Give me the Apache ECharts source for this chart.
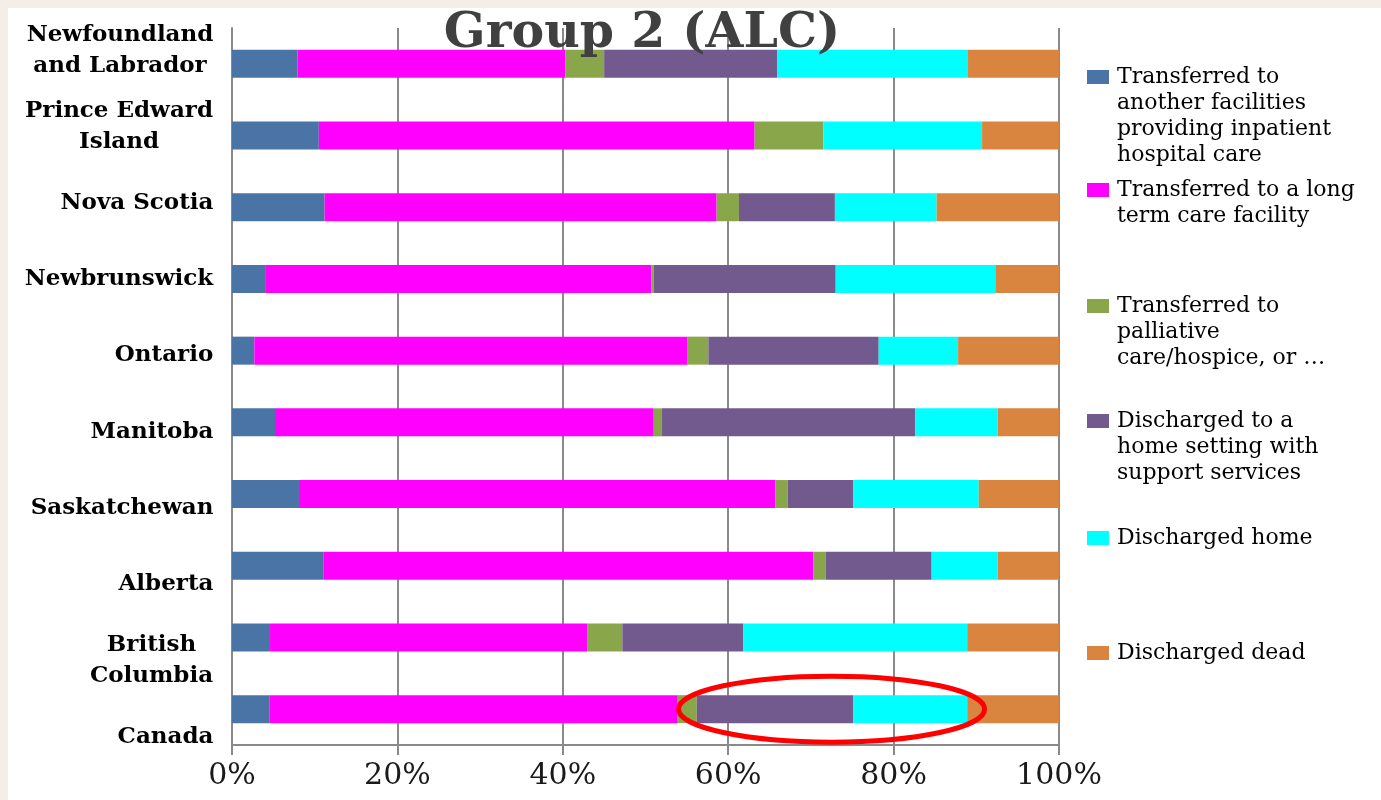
<!DOCTYPE html>
<html>
<head>
<meta charset="utf-8">
<title>Group 2 (ALC)</title>
<script src="https://cdn.jsdelivr.net/npm/echarts@6/dist/echarts.min.js"></script>
<style>
  html, body { margin: 0; padding: 0; background: #f3efe6; }
  #main { position: absolute; left: 8px; top: 8px; width: 1373px; height: 792px; background: #fff; }
</style>
</head>
<body>
<div id="main"></div>
<script>
// categories, top to bottom
var provinces = ['Newfoundland\nand Labrador', 'Prince Edward\nIsland', 'Nova Scotia', 'Newbrunswick', 'Ontario',
  'Manitoba', 'Saskatchewan', 'Alberta', 'British\nColumbia', 'Canada'];

var seriesNames = [
  'Transferred to another facilities providing inpatient hospital care',
  'Transferred to a long term care facility',
  'Transferred to palliative care/hospice, or \u2026',
  'Discharged to a home setting with support services',
  'Discharged home',
  'Discharged dead'
];
// legend text as it wraps in the picture
var legendLines = [
  ['Transferred to', 'another facilities', 'providing inpatient', 'hospital care'],
  ['Transferred to a long', 'term care facility'],
  ['Transferred to', 'palliative', 'care/hospice, or \u2026'],
  ['Discharged to a', 'home setting with', 'support services'],
  ['Discharged home'],
  ['Discharged dead']
];
var colors = ['#4a74a6', '#ff00ff', '#8aa64b', '#72598e', '#00ffff', '#d9843f'];

// percentages per province (same order as provinces)
var otherFacility = [7.9, 10.5, 11.2, 4.1, 2.7, 5.2, 8.1, 11.1, 4.6, 4.5];
var longTermCare  = [32.4, 52.7, 47.4, 46.6, 52.4, 45.8, 57.6, 59.2, 38.4, 49.4];
var palliative    = [4.7, 8.3, 2.7, 0.3, 2.5, 1.0, 1.5, 1.5, 4.2, 2.3];
var homeSupport   = [20.9, 0, 11.6, 22.0, 20.6, 30.6, 7.9, 12.8, 14.6, 18.9];
var home          = [23.1, 19.2, 12.3, 19.3, 9.6, 10.0, 15.2, 8.0, 27.1, 13.8];
var dead          = [11.0, 9.3, 14.8, 7.7, 12.2, 7.4, 9.7, 7.4, 11.1, 11.1];
var seriesData = [otherFacility, longTermCare, palliative, homeSupport, home, dead];

// red circled part of the Canada bar (percent range)
var circleFrom = 54;
var circleTo = 91;
var circleRow = 'Canada';

var serif = '"DejaVu Serif", "Liberation Serif", serif';
var gridColor = '#8a8a8a';

// category labels: lines centred inside the label block, block right aligned
var ctx = document.createElement('canvas').getContext('2d');
ctx.font = 'bold 23px ' + serif;
var labelRich = {};
provinces.forEach(function (p, i) {
  var w = Math.max.apply(null, p.split('\n').map(function (s) { return ctx.measureText(s).width; }));
  labelRich['c' + i] = {
    width: Math.ceil(w) + 1, align: 'center',
    fontFamily: serif, fontWeight: 'bold', fontSize: 23, lineHeight: 31, color: '#000'
  };
});

var myChart = echarts.init(document.getElementById('main'));

// one legend per item so the items keep the even spacing of the picture;
// the colour square is part of the first text line, like in Excel
var legendCentres = [69, 182, 298, 413, 530, 645]; // first text line, chart px
var legends = seriesNames.map(function (name, i) {
  var rich = {
    g: { width: 8 },
    ind: { width: 30 },
    t: { fontFamily: serif, fontSize: 22, lineHeight: 26, color: '#000' }
  };
  rich['s' + i] = { width: 22, height: 14, backgroundColor: colors[i] };
  return {
    data: [name],
    left: 1073,
    top: legendCentres[i] - 13,
    padding: 0,
    icon: 'rect',
    itemWidth: 1,
    itemHeight: 1,
    itemStyle: { opacity: 0 },
    formatter: function () {
      var lines = legendLines[i];
      var out = '{s' + i + '|}{g|}{t|' + lines[0] + '}';
      for (var k = 1; k < lines.length; k++) {
        out += '\n{ind|}{t|' + lines[k] + '}';
      }
      return out;
    },
    textStyle: { fontFamily: serif, fontSize: 22, lineHeight: 26, color: '#000', rich: rich }
  };
});

var option = {
  backgroundColor: '#fff',
  animation: false,
  color: colors,
  title: {
    text: 'Group 2 (ALC)',
    left: 634,
    top: 2,
    padding: 0,
    textAlign: 'center',
    textStyle: { fontFamily: serif, fontWeight: 'bold', fontSize: 49, color: '#404040' }
  },
  legend: legends,
  grid: [
    { left: 224, right: 322, top: 20, bottom: 55 },
    // only carries the category labels, which sit a little off the bars in the picture
    { left: 224, right: 322, top: 4, bottom: 25 }
  ],
  xAxis: [
    {
      type: 'value',
      min: 0,
      max: 100,
      interval: 20,
      axisLine: { show: true, lineStyle: { color: gridColor, width: 2 } },
      axisTick: { show: true, length: 10, lineStyle: { color: gridColor, width: 2 } },
      splitLine: { show: true, lineStyle: { color: gridColor, width: 2 } },
      axisLabel: {
        formatter: '{value}%',
        margin: 16,
        fontFamily: serif, fontSize: 30, color: '#1a1a1a'
      }
    },
    { type: 'value', gridIndex: 1, show: false, min: 0, max: 100 }
  ],
  yAxis: [
    {
      type: 'category',
      inverse: true,
      data: provinces,
      axisLine: { show: true, lineStyle: { color: gridColor, width: 2 } },
      axisTick: { show: false },
      axisLabel: { show: false }
    },
    {
      type: 'category',
      gridIndex: 1,
      inverse: true,
      data: provinces,
      axisLine: { show: false },
      axisTick: { show: false },
      splitLine: { show: false },
      axisLabel: {
        margin: 18,
        formatter: function (value, index) {
          return value.split('\n').map(function (s) { return '{c' + index + '|' + s + '}'; }).join('\n');
        },
        rich: labelRich
      }
    }
  ],
  series: seriesNames.map(function (name, i) {
    return {
      name: name,
      type: 'bar',
      stack: 'total',
      barWidth: 28,
      data: seriesData[i]
    };
  })
};

myChart.setOption(option);

// red ellipse drawn around the circled part of the Canada bar
var x1 = myChart.convertToPixel({ xAxisIndex: 0 }, circleFrom);
var x2 = myChart.convertToPixel({ xAxisIndex: 0 }, circleTo);
var cy = myChart.convertToPixel({ yAxisIndex: 0 }, circleRow);
myChart.setOption({
  graphic: [{
    type: 'ellipse',
    shape: { cx: (x1 + x2) / 2, cy: cy, rx: (x2 - x1) / 2, ry: 33 },
    style: { fill: 'none', stroke: '#ff0000', lineWidth: 5 },
    z: 100
  }]
});

window.addEventListener('resize', function () {
  myChart.resize();
});
</script>
</body>
</html>
